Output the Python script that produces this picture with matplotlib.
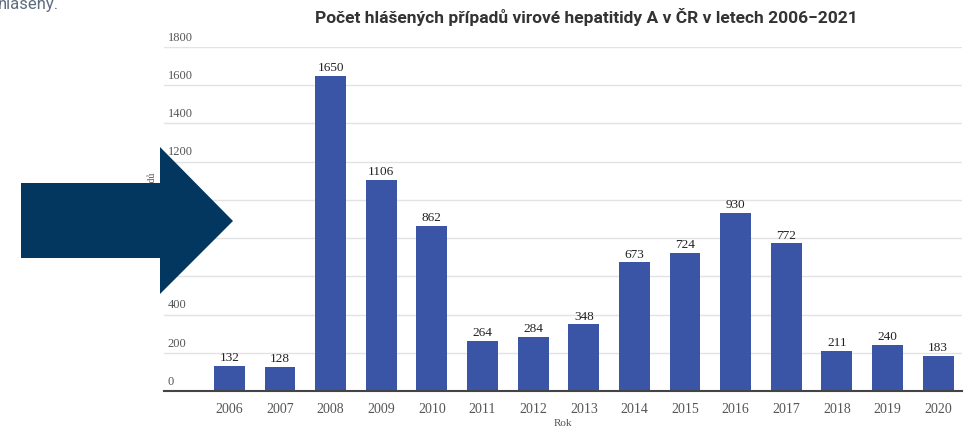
import matplotlib
matplotlib.use("Agg")
import matplotlib.pyplot as plt
from matplotlib.patches import Polygon
import numpy as np

years = [2006, 2007, 2008, 2009, 2010, 2011, 2012, 2013, 2014, 2015, 2016, 2017, 2018, 2019, 2020]
cases = [132, 128, 1650, 1106, 862, 264, 284, 348, 673, 724, 930, 772, 211, 240, 183]
y_ticks = [0, 200, 400, 600, 800, 1000, 1200, 1400, 1600, 1800]

W, H = 966, 431
fig = plt.figure(figsize=(W / 100, H / 100), dpi=100)
ax = fig.add_axes([164 / W, 1 - 392 / H, (962 - 164) / W, (392 - 48) / H])

serif = "Liberation Serif"
bar_color = "#3a55a5"

x = np.arange(len(years))
bars = ax.bar(x, cases, width=0.61, color=bar_color, zorder=3)

# value labels on top of bars
for xi, v in zip(x, cases):
    ax.annotate(str(v), (xi, v), xytext=(0, 2), textcoords="offset points",
                ha="center", va="bottom", family=serif, fontsize=9.5, color="#222222")

ax.set_xlim(-1.29, 14.47)
ax.set_ylim(0, 1800)
ax.set_xticks(x)
ax.set_xticklabels([str(y) for y in years], family=serif, fontsize=10, color="#555555")
ax.tick_params(axis="x", length=0, pad=8)
ax.set_yticks(y_ticks)
ax.set_yticklabels([])
ax.tick_params(axis="y", length=0)
ax.grid(axis="y", color="#e3e3e3", linewidth=1, zorder=0)

# y tick labels sit above the gridlines, left aligned
for t in y_ticks:
    ax.annotate(str(t), (0, t), xycoords=("axes fraction", "data"), xytext=(2.5, 3),
                textcoords="offset points", ha="left", va="bottom",
                family=serif, fontsize=9, color="#555555")

for s in ["top", "right", "left"]:
    ax.spines[s].set_visible(False)
ax.spines["bottom"].set_color("#444444")
ax.spines["bottom"].set_linewidth(1.5)
ax.spines["bottom"].set_zorder(4)

ax.set_xlabel("Rok", family=serif, fontsize=8, color="#555555", labelpad=2)

fig.text(586 / W, 1 - 17 / H, "Počet hlášených případů virové hepatitidy A v ČR v letech 2006−2021",
         ha="center", va="center", fontsize=12.5, fontweight="bold", color="#333333", family="Roboto")

fig.text(152 / W, 1 - 200 / H, "Počet případů", rotation=90, ha="center", va="center",
         family=serif, fontsize=7, color="#555555")

# text cut off at the top of the screenshot
fig.text(-0.002, 1 - 9 / H, "hlášeny.", ha="left", va="baseline", fontsize=12,
         color="#5d6d7e", family="Roboto")

# arrow overlay
arrow_px = [(21, 184), (160, 184), (160, 148), (233, 222), (160, 295), (160, 259), (21, 259)]
arrow = Polygon([(px / W, 1 - py / H) for px, py in arrow_px], closed=True,
                transform=fig.transFigure, facecolor="#03375f", edgecolor="none", zorder=10)
fig.patches.append(arrow)

fig.savefig("out.png", dpi=100)
